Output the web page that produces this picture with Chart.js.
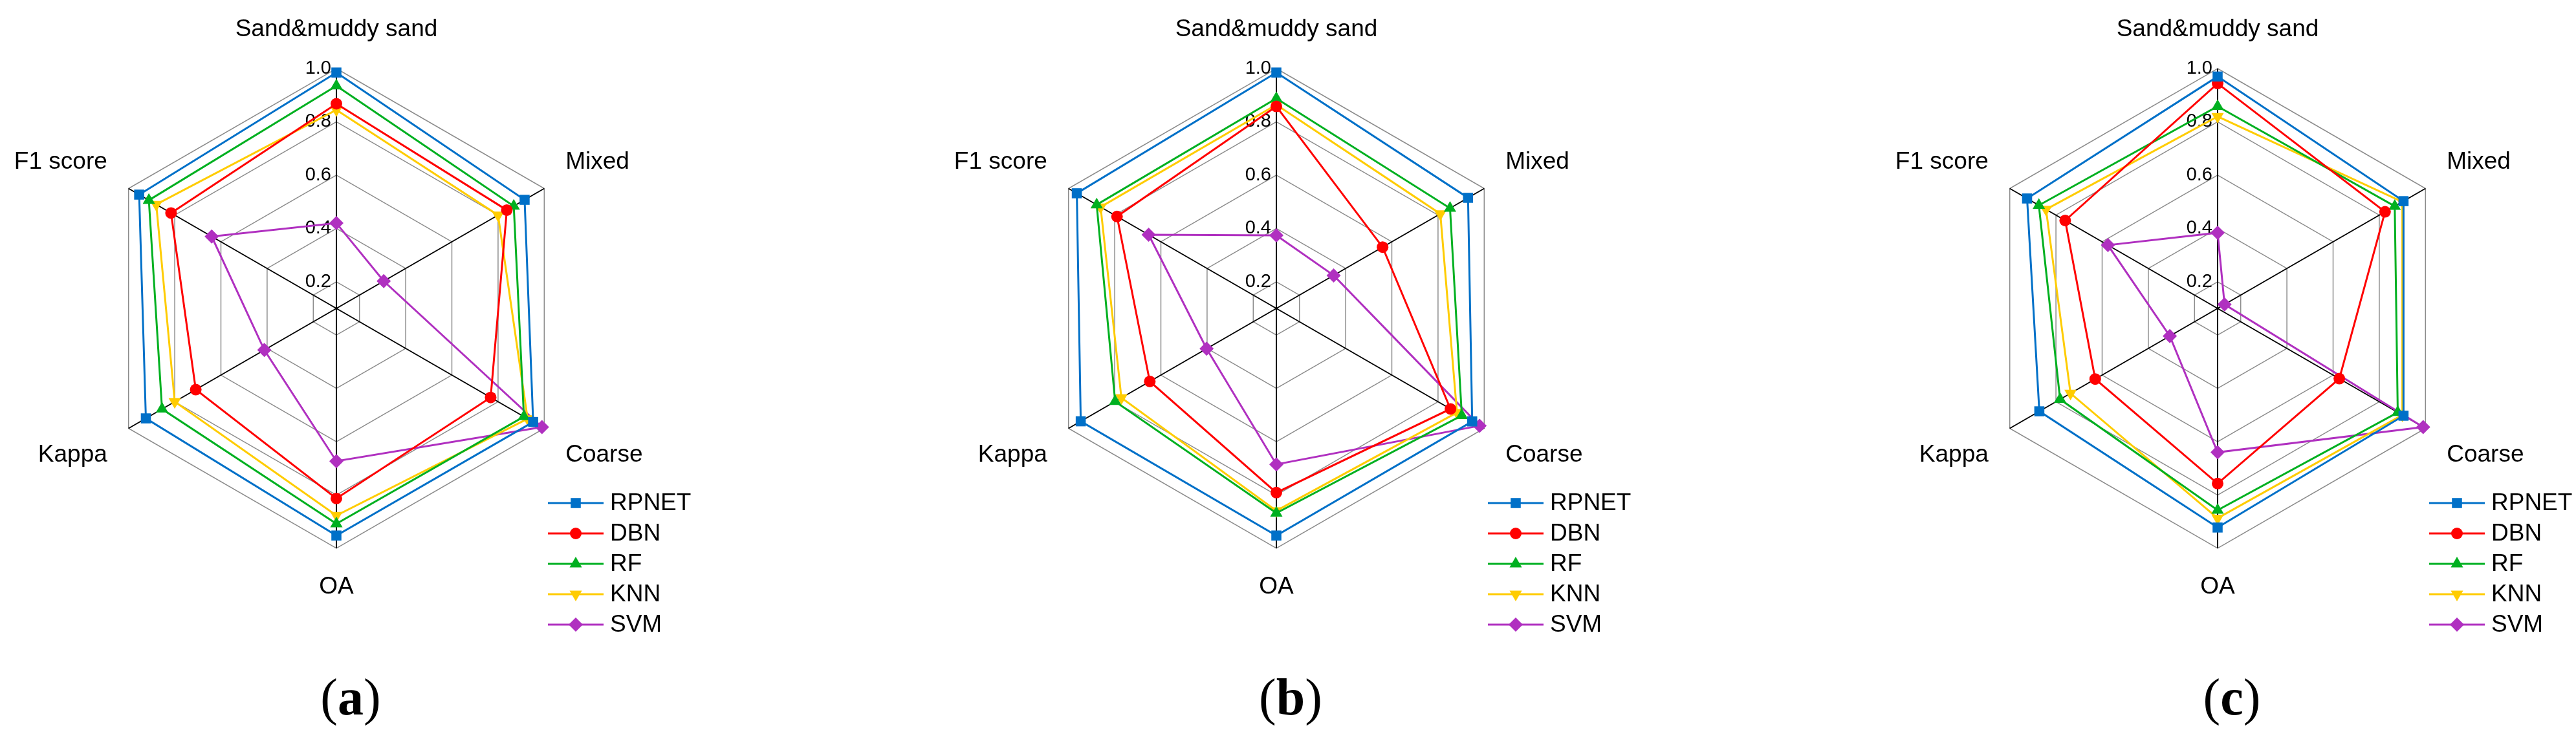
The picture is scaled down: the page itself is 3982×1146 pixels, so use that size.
<!DOCTYPE html>
<html lang="en">
<head>
    <meta charset="UTF-8">
    <title>Radar comparison of classifiers</title>
    <style>
        body {
            margin: 0;
            background-color: #fff;
        }
        #wrap {
            position: relative;
            width: 3982px;
            height: 1146px;
        }
        canvas {
            position: absolute;
            top: 0;
        }
    </style>
</head>
<body>
    <div id="wrap">
        <canvas id="chartA" width="1327" height="1146" style="left:0px"></canvas>
        <canvas id="chartB" width="1327" height="1146" style="left:1327px"></canvas>
        <canvas id="chartC" width="1328" height="1146" style="left:2654px"></canvas>
    </div>

    <script src="https://cdn.jsdelivr.net/npm/chart.js"></script>

    <script>
        // axes go clockwise from the top
        const axes = ['Sand&muddy sand', 'Mixed', 'Coarse', 'OA', 'Kappa', 'F1 score'];
        const methods = ['RPNET', 'DBN', 'RF', 'KNN', 'SVM'];
        const tickValues = [0.2, 0.4, 0.6, 0.8, 1.0];
        const panelLetters = ['a', 'b', 'c'];

        // panel (a)
        const rpnetA = [0.985, 0.915, 0.952, 0.952, 0.925, 0.954];
        const dbnA   = [0.868, 0.838, 0.768, 0.813, 0.709, 0.816];
        const rfA    = [0.935, 0.868, 0.912, 0.908, 0.855, 0.912];
        const knnA   = [0.845, 0.800, 0.928, 0.877, 0.800, 0.880];
        const svmA   = [0.420, 0.305, 0.990, 0.673, 0.412, 0.640];

        // panel (b)
        const rpnetB = [0.985, 0.930, 0.948, 0.952, 0.947, 0.964];
        const dbnB   = [0.858, 0.560, 0.854, 0.791, 0.648, 0.790];
        const rfB    = [0.888, 0.852, 0.903, 0.868, 0.798, 0.878];
        const knnB   = [0.864, 0.810, 0.882, 0.859, 0.771, 0.861];
        const svmB   = [0.374, 0.348, 0.980, 0.685, 0.402, 0.653];

        // panel (c)
        const rpnetC = [0.970, 0.905, 0.905, 0.922, 0.872, 0.925];
        const dbnC   = [0.944, 0.825, 0.627, 0.757, 0.630, 0.760];
        const rfC    = [0.858, 0.867, 0.880, 0.857, 0.782, 0.874];
        const knnC   = [0.820, 0.900, 0.900, 0.887, 0.737, 0.843];
        const svmC   = [0.384, 0.130, 0.990, 0.640, 0.307, 0.575];

        const colors = ['#0070C8', '#FF0000', '#00B020', '#FFCC00', '#B030C0'];
        const markers = ['rect', 'circle', 'triangle', 'triangle', 'rectRot'];
        const markerRot = [0, 0, 0, 180, 0];
        const markerSize = [11, 9, 11, 11, 11];

        const sansFont = '"Liberation Sans", Arial, sans-serif';
        const serifFont = '"Liberation Serif", "Times New Roman", serif';

        // tick labels sit left of the vertical axis, legend and panel letter below
        const decorations = {
            id: 'decorations',
            beforeDatasetsDraw(chart) {
                const s = chart.scales.r;
                const ctx = chart.ctx;
                ctx.save();
                ctx.font = '29px ' + sansFont;
                ctx.fillStyle = '#000';
                ctx.textAlign = 'right';
                ctx.textBaseline = 'middle';
                tickValues.forEach(v => {
                    const y = s.yCenter - s.getDistanceFromCenterForValue(v);
                    ctx.fillText(v.toFixed(1), s.xCenter - 8, y);
                });
                ctx.restore();
            },
            afterDraw(chart, args, opts) {
                const s = chart.scales.r;
                const ctx = chart.ctx;
                ctx.save();

                // line + marker legend
                const x0 = s.xCenter + 327;
                chart.data.datasets.forEach((ds, i) => {
                    const y = s.yCenter + 301 + i * 47;
                    ctx.strokeStyle = ds.borderColor;
                    ctx.lineWidth = 3;
                    ctx.beginPath();
                    ctx.moveTo(x0, y);
                    ctx.lineTo(x0 + 86, y);
                    ctx.stroke();
                    ctx.fillStyle = ds.pointBackgroundColor;
                    Chart.helpers.drawPoint(ctx, {
                        pointStyle: ds.pointStyle,
                        rotation: ds.pointRotation,
                        radius: ds.pointRadius,
                        borderWidth: 0
                    }, x0 + 43, y);
                    ctx.fillStyle = '#000';
                    ctx.font = '37px ' + sansFont;
                    ctx.textAlign = 'left';
                    ctx.textBaseline = 'middle';
                    ctx.fillText(ds.label, x0 + 96, y + 1);
                });

                // panel letter: (a) with a bold letter
                const cx = s.xCenter + 22;
                const cy = 1084;
                const size = 80;
                ctx.textBaseline = 'middle';
                ctx.fillStyle = '#000';
                ctx.font = size + 'px ' + serifFont;
                const wp = ctx.measureText('(').width;
                const wq = ctx.measureText(')').width;
                ctx.font = 'bold ' + size + 'px ' + serifFont;
                const wl = ctx.measureText(opts.letter).width;
                const x = cx - (wp + wl + wq) / 2;
                ctx.textAlign = 'left';
                ctx.font = size + 'px ' + serifFont;
                ctx.fillText('(', x, cy);
                ctx.font = 'bold ' + size + 'px ' + serifFont;
                ctx.fillText(opts.letter, x + wp, cy);
                ctx.font = size + 'px ' + serifFont;
                ctx.fillText(')', x + wp + wl, cy);

                ctx.restore();
            }
        };

        function makeDatasets(series) {
            return series.map((values, i) => ({
                label: methods[i],
                data: values,
                borderColor: colors[i],
                backgroundColor: colors[i],
                pointBackgroundColor: colors[i],
                pointBorderColor: colors[i],
                pointBorderWidth: 0,
                pointStyle: markers[i],
                pointRotation: markerRot[i],
                pointRadius: markerSize[i],
                pointHoverRadius: markerSize[i],
                borderWidth: 3,
                fill: false,
                tension: 0
            }));
        }

        function createChart(canvasId, series, centerX, letter) {
            new Chart(document.getElementById(canvasId).getContext('2d'), {
                type: 'radar',
                data: {
                    labels: axes,
                    datasets: makeDatasets(series)
                },
                options: {
                    responsive: false,
                    animation: false,
                    events: [],
                    plugins: {
                        legend: { display: false },
                        tooltip: { enabled: false },
                        decorations: { letter: letter }
                    },
                    scales: {
                        r: {
                            min: 0.1,
                            max: 1.0,
                            afterSetDimensions: scale => {
                                scale.xCenter = centerX;
                                scale.yCenter = 477;
                                scale.drawingArea = 371;
                            },
                            afterBuildTicks: scale => {
                                scale.ticks = [0.1].concat(tickValues).map(v => ({ value: v }));
                            },
                            ticks: { display: false },
                            grid: {
                                color: '#8c8c8c',
                                lineWidth: 1.5
                            },
                            angleLines: {
                                color: '#000000',
                                lineWidth: 2
                            },
                            pointLabels: {
                                color: '#000',
                                padding: 38,
                                font: { family: sansFont, size: 37 }
                            }
                        }
                    }
                },
                plugins: [decorations]
            });
        }

        createChart('chartA', [rpnetA, dbnA, rfA, knnA, svmA], 520, panelLetters[0]);
        createChart('chartB', [rpnetB, dbnB, rfB, knnB, svmB], 646, panelLetters[1]);
        createChart('chartC', [rpnetC, dbnC, rfC, knnC, svmC], 774, panelLetters[2]);
    </script>
</body>
</html>
